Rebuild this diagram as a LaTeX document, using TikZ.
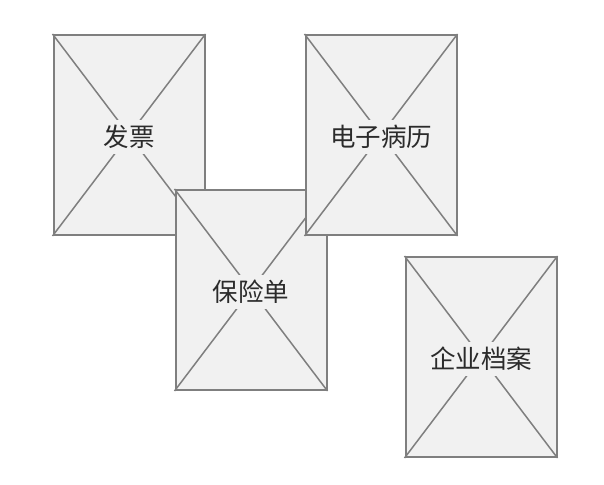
\documentclass[tikz,border=0pt]{standalone}
\usepackage{fontspec}
\newfontfamily\cjk{Noto Sans CJK SC}
\definecolor{boxgray}{HTML}{7F7F7F}
\definecolor{boxfill}{HTML}{F1F1F1}
\definecolor{txtgray}{HTML}{2B2B2B}
\tikzset{
  imgbox/.style={draw=boxgray, fill=boxfill, line width=2pt, minimum width=151pt, minimum height=200pt, inner sep=0pt},
  cross/.style={draw=boxgray, line width=1.5pt},
  lbl/.style={fill=boxfill, text=txtgray, font=\cjk\fontsize{25.5}{28}\selectfont, inner sep=5pt, yshift=-2pt}
}
\begin{document}
\begin{tikzpicture}[x=1pt,y=1pt]
\useasboundingbox (0,0) rectangle (604,484);
\node[imgbox] (fp) at (129,349) {};
\path[cross] (fp.north west) -- (fp.south east);
\path[cross] (fp.north east) -- (fp.south west);
\node[lbl] (fpl) at (fp.center) {发票};
\node[imgbox] (bxd) at (251,194) {};
\path[cross] (bxd.north west) -- (bxd.south east);
\path[cross] (bxd.north east) -- (bxd.south west);
\node[lbl] (bxdl) at (bxd.center) {保险单};
\node[imgbox] (dzbl) at (381,349) {};
\path[cross] (dzbl.north west) -- (dzbl.south east);
\path[cross] (dzbl.north east) -- (dzbl.south west);
\node[lbl] (dzbll) at (dzbl.center) {电子病历};
\node[imgbox] (qyda) at (481,127) {};
\path[cross] (qyda.north west) -- (qyda.south east);
\path[cross] (qyda.north east) -- (qyda.south west);
\node[lbl] (qydal) at (qyda.center) {企业档案};
\end{tikzpicture}
\end{document}
